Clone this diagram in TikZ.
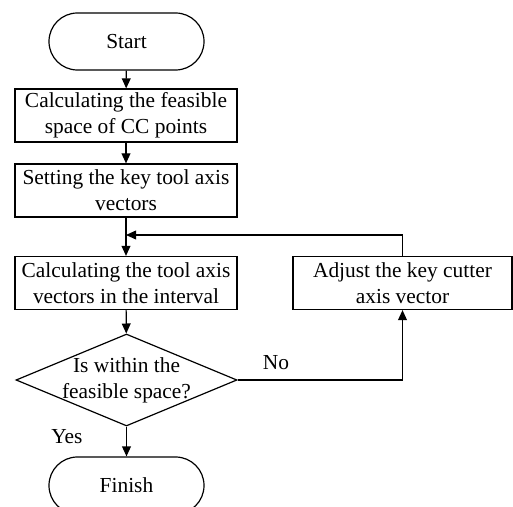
\documentclass[tikz,border=0pt]{standalone}
\usepackage{fontspec}
\setmainfont{Liberation Serif}
\usetikzlibrary{shapes.geometric,arrows.meta}
\begin{document}
\begin{tikzpicture}[x=0.5pt,y=-0.5pt,>={Triangle[length=5pt,width=4.4pt]},line width=0.6pt,
  font=\fontsize{10.7}{13}\selectfont,
  term/.style={draw,minimum width=77.5pt,minimum height=28.5pt,rounded corners=14.2pt,inner sep=0pt},
  proc/.style={draw,minimum width=111pt,minimum height=26.5pt,inner sep=0pt,align=center},
  decision/.style={draw,diamond,minimum width=110.5pt,minimum height=46pt,inner sep=0pt}]
\useasboundingbox (0,0) rectangle (513,507);
\node[term] (start) at (126.5,41.5) {Start};
\node[proc] (calc) at (126,115.5) {Calculating the feasible\\space of CC points};
\node[proc] (set) at (126,190.5) {Setting the key tool axis\\vectors};
\node[proc] (interval) at (126,283) {Calculating the tool axis\\vectors in the interval};
\node[decision] (check) at (126.5,380) {};
\node[align=center] (checktxt) at (check) {Is within the\\feasible space?};
\node[proc,minimum width=109.5pt] (adjust) at (402.5,283) {Adjust the key cutter\\axis vector};
\node[term] (finish) at (126.5,485.5) {Finish};
\node (no) at (276,363) {No};
\node (yes) at (67,437) {Yes};
\coordinate (join) at (126,235);
\draw[->] (start) -- (calc);
\draw[->] (calc) -- (set);
\draw (set) -- (join);
\draw[->] (join) -- (interval);
\draw[->] (adjust.north) |- (join);
\draw[->] (interval) -- (check);
\draw[->] (check.east) -| (adjust.south);
\draw[->] (check) -- (finish);
\end{tikzpicture}
\end{document}
